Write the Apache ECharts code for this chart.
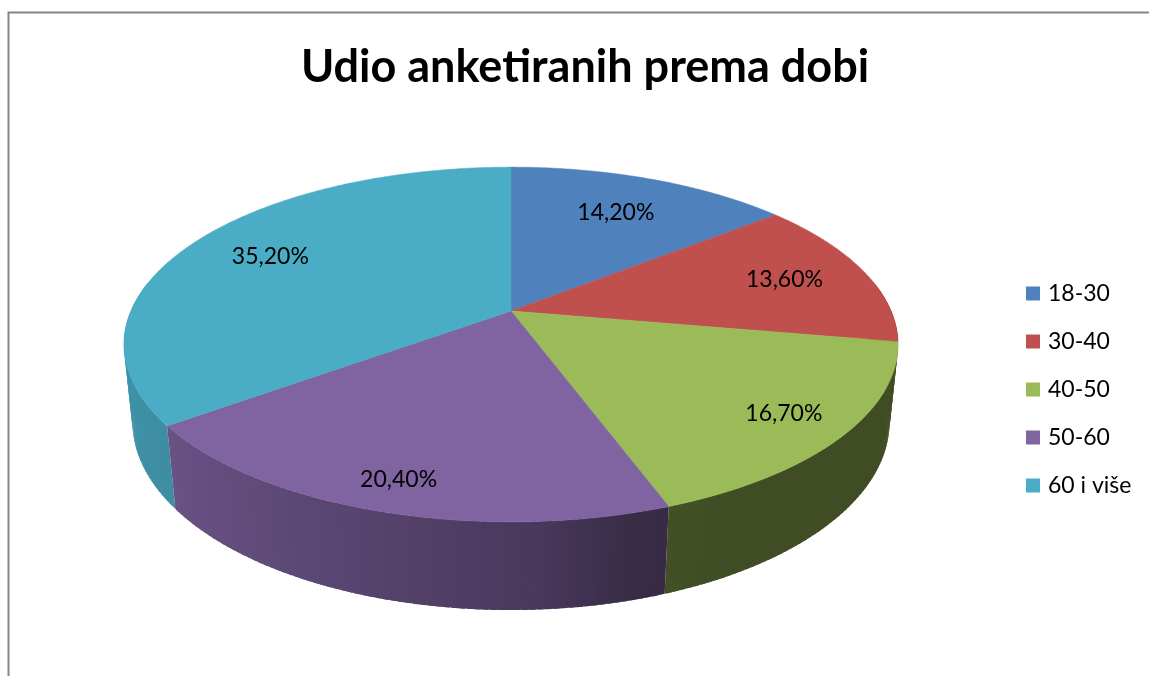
<!DOCTYPE html>
<html>
<head>
<meta charset="utf-8">
<script src="https://cdn.jsdelivr.net/npm/echarts@6/dist/echarts.min.js"></script>
<style>
html,body{margin:0;padding:0;background:#fff;}
#chart{width:1149px;height:676px;}
</style>
</head>
<body>
<div id="chart"></div>
<script>
// ---- data ----
var titleText = 'Udio anketiranih prema dobi';
var categories = ['18-30', '30-40', '40-50', '50-60', '60 i više'];
var values = [14.2, 13.6, 16.7, 20.4, 35.2];
var labels = ['14,20%', '13,60%', '16,70%', '20,40%', '35,20%'];
var colors = ['#4F81BD', '#C0504D', '#9BBB59', '#8064A2', '#4BACC6'];

// ---- 3D projection (layout) ----
var CX = 511, CY = 311, F = 1798, DIST = 4.73, SIN = 0.45, COS = 0.893, H = 0.23;
function proj(deg, r, yw) {
  var t = deg * Math.PI / 180;
  var dv = yw * SIN - r * Math.cos(t) * COS;
  var depth = DIST - dv;
  var du = yw * COS + r * Math.cos(t) * SIN;
  return [CX + F * r * Math.sin(t) / depth, CY - F * du / depth];
}
function hexToRgb(h) {
  return [parseInt(h.substr(1, 2), 16), parseInt(h.substr(3, 2), 16), parseInt(h.substr(5, 2), 16)];
}
var shadePts = [[0, 0.41], [150, 0.41], [165, 0.44], [176, 0.56], [200, 0.69], [232, 0.82], [270, 0.87], [360, 0.87]];
function shadeFactor(deg) {
  for (var i = 1; i < shadePts.length; i++) {
    if (deg <= shadePts[i][0]) {
      var a = shadePts[i - 1], b = shadePts[i];
      return a[1] + (b[1] - a[1]) * (deg - a[0]) / (b[0] - a[0]);
    }
  }
  return 0.87;
}
function shade(hex, k) {
  var c = hexToRgb(hex);
  return 'rgb(' + Math.round(c[0] * k) + ',' + Math.round(c[1] * k) + ',' + Math.round(c[2] * k) + ')';
}

var total = values.reduce(function (a, b) { return a + b; }, 0);
var starts = [];
var acc = 0;
for (var i = 0; i < values.length; i++) { starts.push(acc); acc += values[i]; }

function makeRender(idx) {
  return function (params, api) {
    var v = api.value(0), st = api.value(1);
    var a = st / total * 360, b = (st + v) / total * 360;
    var children = [];
    // walls
    var wa = Math.max(a, 80), wb = Math.min(b, 280);
    if (wb > wa) {
      var n = Math.max(1, Math.ceil((wb - wa) / 1));
      for (var k = 0; k < n; k++) {
        var t1 = wa + (wb - wa) * k / n, t2 = wa + (wb - wa) * (k + 1) / n;
        var tm = (t1 + t2) / 2;
        var t2e = Math.min(wb, t2 + 0.7);
        var col = shade(colors[idx], shadeFactor(tm));
        children.push({
          type: 'polygon',
          shape: { points: [proj(t1, 1, 0), proj(t2e, 1, 0), proj(t2e, 1, -H), proj(t1, 1, -H)] },
          style: { fill: col },
          z2: 100 + Math.round((1 - Math.cos(tm * Math.PI / 180)) * 300),
          silent: true
        });
      }
    }
    // top face
    var pts = [proj(0, 0, 0)];
    var m = Math.max(2, Math.ceil((b - a) / 0.5));
    for (var j = 0; j <= m; j++) pts.push(proj(a + (b - a) * j / m, 1, 0));
    children.push({
      type: 'polygon',
      shape: { points: pts },
      style: { fill: colors[idx], stroke: colors[idx], lineWidth: 0.5 },
      z2: 1000
    });
    var mid = (a + b) / 2;
    var lr = 0.79 - 0.08 * Math.cos(mid * Math.PI / 180);
    var lp = proj(mid, lr, 0);
    children.push({
      type: 'text',
      x: lp[0], y: lp[1],
      style: {
        text: labels[idx], fill: '#000', fontFamily: 'Lato', fontSize: 23,
        align: 'center', verticalAlign: 'middle'
      },
      z2: 2000
    });
    return { type: 'group', children: children };
  };
}

var series = categories.map(function (name, i) {
  return {
    type: 'custom',
    name: name,
    coordinateSystem: 'none',
    itemStyle: { color: colors[i] },
    data: [[values[i], starts[i]]],
    renderItem: makeRender(i),
    animation: false
  };
});

var chart = echarts.init(document.getElementById('chart'), null, { renderer: 'canvas' });
chart.setOption({
  animation: false,
  color: colors,
  title: {
    text: titleText,
    left: 580,
    textAlign: 'center',
    top: 40,
    textStyle: { fontFamily: 'Lato', fontWeight: 'bold', fontSize: 45, color: '#000' }
  },
  legend: {
    orient: 'vertical',
    left: 1026,
    top: 282,
    padding: 0,
    icon: 'rect',
    itemWidth: 14,
    itemHeight: 14,
    itemGap: 25,
    data: categories,
    textStyle: { fontFamily: 'Lato', fontSize: 23, color: '#000', lineHeight: 22, padding: [0, 0, 0, 3] }
  },
  graphic: [{
    type: 'rect',
    shape: { x: 8.5, y: 12.5, width: 1400, height: 900 },
    style: { fill: 'none', stroke: '#868686', lineWidth: 2 },
    silent: true
  }],
  series: series
});
</script>
</body>
</html>
